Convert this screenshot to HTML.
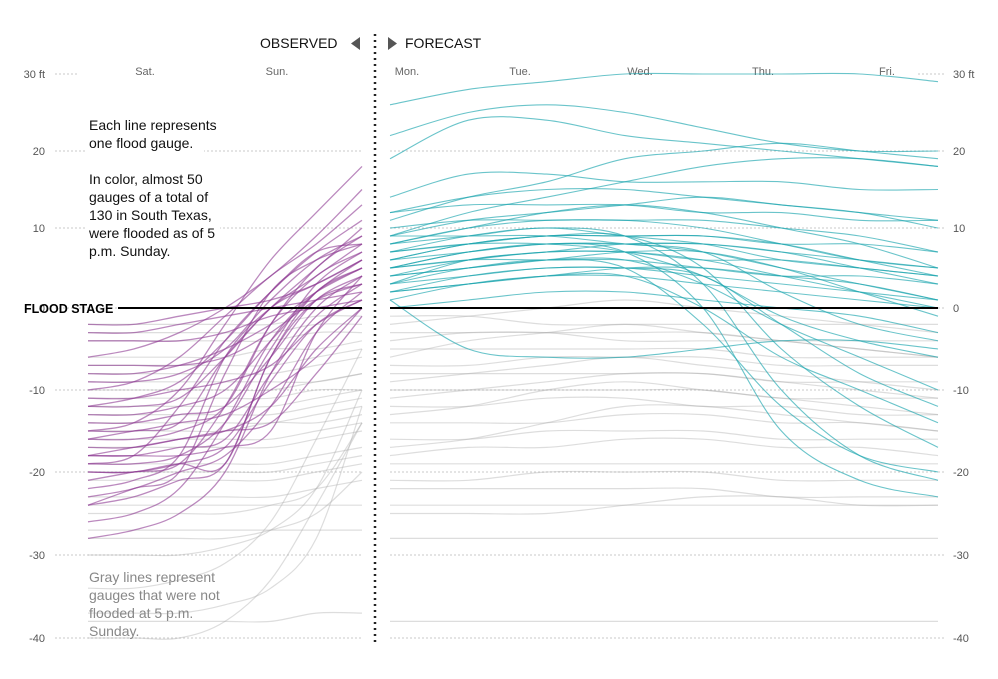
<!DOCTYPE html>
<html><head><meta charset="utf-8"><style>
body{margin:0;background:#fff;font-family:"Liberation Sans",sans-serif}
svg{display:block}
</style></head><body>
<svg id="chart" width="998" height="679" xmlns="http://www.w3.org/2000/svg">
<g id="grid"></g>
<g id="lines"></g>
<g id="overlay"></g>
</svg>
<script>
const yTicks=[30,20,10,0,-10,-20,-30,-40];
const yTickLabels=["30 ft","20","10","0","-10","-20","-30","-40"];
const obsDays=["Sat.","Sun."];
const fcDays=["Mon.","Tue.","Wed.","Thu.","Fri."];
const purpleObserved=[
[-16,-16,-15,-12,-2,5,9],[-19,-19,-18,-14,-5,3,7],[-24,-22,-20,-8,2,6,8],[-8,-8,-7,-5,-2,2,5],
[-14,-14,-13,-12,-6,1,4],[-22,-21,-18,-6,0,3,6],[-12,-12,-11,-6,0,4,8],[-18,-18,-17,-16,-8,-1,3],
[-7,-7,-7,-6,-3,1,3],[-3,-3,-2,-1,0,1,2],[-26,-25,-22,-14,-4,2,5],[-10,-9,-6,-1,4,8,13],
[-15,-14,-10,-2,6,12,18],[-20,-20,-19,-17,-9,-2,1],[-13,-13,-12,-10,-4,2,6],[-23,-22,-20,-18,-12,-3,2],
[-17,-17,-16,-15,-12,-5,0],[-9,-9,-8,-5,1,6,9],[-28,-27,-25,-20,-8,0,4],[-11,-11,-10,-9,-7,-2,1],
[-19,-18,-12,-4,2,7,11],[-15,-15,-14,-13,-10,-6,0],[-6,-5,-3,0,4,9,15],[-21,-20,-19,-12,-2,4,7],
[-4,-4,-4,-3,-1,0,1],[-16,-15,-14,-6,0,5,10],[-18,-17,-16,-15,-14,-8,-1],[-12,-11,-9,-4,2,7,8],
[-2,-2,-1,0,1,3,6],[-24,-23,-21,-19,-6,2,5],[-18,-18,-18,-17,-15,-3,4],[-20,-20,-19,-19,-6,1,3]];
const grayObserved=[
[-2,-2,-2,-2,-2,-1,-1],[-4,-4,-4,-4,-4,-3,-3],[-6,-6,-6,-6,-5,-5,-4],[-8,-8,-8,-8,-8,-7,-6],
[-10,-10,-10,-10,-10,-9,-8],[-12,-12,-12,-12,-12,-11,-10],[-13,-13,-13,-13,-13,-12,-11],[-15,-15,-15,-15,-14,-14,-13],
[-17,-17,-17,-17,-17,-16,-15],[-19,-19,-19,-19,-19,-18,-17],[-21,-21,-21,-21,-21,-20,-19],[-23,-23,-23,-23,-23,-22,-21],
[-24,-24,-24,-24,-24,-24,-24],[-25,-25,-25,-25,-24,-22,-14],[-27,-27,-27,-27,-27,-27,-27],[-28,-28,-28,-28,-27,-25,-20],
[-30,-30,-30,-29,-27,-22,-10],[-34,-34,-33,-31,-26,-16,-5],[-37,-37,-37,-36,-34,-28,-12],[-38,-38,-38,-38,-38,-37,-37],
[-40,-40,-40,-38,-33,-24,-14],[-7,-7,-7,-7,-7,-6,-5],[-11,-11,-11,-11,-11,-10,-10],[-16,-16,-16,-16,-16,-15,-14],
[-20,-20,-20,-20,-20,-19,-18],[-3,-3,-3,-3,-3,-2,-2],[-9,-9,-9,-9,-9,-9,-8],[-14,-14,-14,-14,-14,-13,-12]];
const tealForecast=[
[26,28,29,30,30,30,30,29],[22,25,26,25,23,21,20,20],[19,24,24,22,21,20,19,18],[14,17,17,16,16,16,15,15],
[12,14,15,15,14,13,12,11],[9,11,12,13,14,13,12,10],[8,10,11,11,11,10,9,7],[7,9,10,9,8,6,5,4],
[6,8,9,9,9,8,6,4],[5,7,8,8,7,5,3,1],[4,6,7,7,6,4,2,0],[3,6,7,8,8,7,5,3],
[2,4,5,5,4,3,2,1],[1,3,4,4,3,2,1,0],[4,5,6,6,3,-2,-6,-10],[6,8,9,9,5,-5,-12,-17],
[8,9,10,9,3,-10,-18,-21],[5,7,8,7,0,-15,-21,-23],[3,5,6,5,-2,-12,-18,-20],[2,3,4,4,0,-6,-10,-14],
[7,8,8,7,4,-1,-4,-6],[9,9,9,8,7,2,-2,-4],[10,11,11,11,10,8,6,5],[1,-5,-6,-6,-5,-4,-4,-5],
[0,1,2,2,1,0,-1,-3],[12,13,13,13,12,12,11,11],[5,6,6,6,5,4,4,3],[3,4,5,5,4,-2,-8,-12],
[8,10,12,13,12,10,8,5],[6,7,8,8,8,7,6,5],[4,5,6,7,7,5,2,-1],[2,3,4,5,5,4,3,1],
[11,14,16,19,20,21,20,19],[9,12,14,16,18,19,19,18],[7,8,9,9,9,8,8,7],[5,6,7,7,6,6,5,4]];
const grayForecast=[
[-1,-1,-2,-2,-2,-2,-2,-2],[-3,-3,-3,-4,-4,-4,-4,-4],[-5,-5,-5,-5,-5,-6,-6,-6],[-7,-7,-6,-6,-6,-7,-7,-7],
[-8,-8,-8,-8,-8,-9,-9,-9],[-10,-10,-10,-10,-10,-11,-11,-11],[-12,-12,-11,-11,-12,-12,-13,-13],[-14,-14,-14,-13,-13,-14,-14,-15],
[-16,-16,-15,-15,-15,-16,-16,-16],[-18,-17,-17,-16,-16,-17,-17,-18],[-19,-19,-19,-19,-19,-19,-19,-19],[-21,-21,-20,-20,-20,-21,-21,-21],
[-22,-22,-22,-22,-22,-23,-23,-23],[-24,-24,-24,-24,-24,-24,-24,-24],[-25,-25,-25,-24,-23,-23,-24,-24],[-28,-28,-28,-28,-28,-28,-28,-28],
[-38,-38,-38,-38,-38,-38,-38,-38],[-2,-1,0,1,0,-1,-2,-3],[-6,-4,-3,-2,-3,-4,-5,-6],[-9,-8,-7,-6,-7,-8,-9,-10],
[-13,-12,-10,-9,-10,-11,-12,-13],[-4,-3,-3,-3,-3,-4,-5,-6],[-11,-10,-9,-8,-8,-9,-10,-11],[-17,-16,-14,-12,-12,-13,-14,-15]];

const NS="http://www.w3.org/2000/svg";
const tickPx=[74,151,228,308,390,472,555,638];
function y(v){
  if(v>=yTicks[0])return tickPx[0]-(v-yTicks[0])*7.7;
  for(let i=0;i<yTicks.length-1;i++){
    if(v<=yTicks[i]&&v>=yTicks[i+1]){const t=(yTicks[i]-v)/(yTicks[i]-yTicks[i+1]);return tickPx[i]+t*(tickPx[i+1]-tickPx[i]);}
  }
  return tickPx[7]+(yTicks[7]-v)*8.3;
}
const obsX0=88,obsX1=362,fcX0=390,fcX1=938;
function xObs(i,n){return obsX0+i*(obsX1-obsX0)/(n-1);}
function xFc(i,n){return fcX0+i*(fcX1-fcX0)/(n-1);}
function el(tag,attrs,parent){const e=document.createElementNS(NS,tag);for(const k in attrs)e.setAttribute(k,attrs[k]);parent.appendChild(e);return e;}
function pathD(pts){
  let d="M"+pts[0][0]+","+pts[0][1];
  for(let i=0;i<pts.length-1;i++){
    const p0=pts[i-1]||pts[i],p1=pts[i],p2=pts[i+1],p3=pts[i+2]||p2;
    const c1=[p1[0]+(p2[0]-p0[0])/6,p1[1]+(p2[1]-p0[1])/6],c2=[p2[0]-(p3[0]-p1[0])/6,p2[1]-(p3[1]-p1[1])/6];
    d+=" C"+c1[0].toFixed(1)+","+c1[1].toFixed(1)+" "+c2[0].toFixed(1)+","+c2[1].toFixed(1)+" "+p2[0].toFixed(1)+","+p2[1].toFixed(1);
  }
  return d;
}
const grid=document.getElementById("grid"),lines=document.getElementById("lines"),ov=document.getElementById("overlay");
yTicks.forEach((t,i)=>{
  const yy=y(t);
  const top=(i===0);
  const g1=el("line",{x1:55,x2:top?78:362,y1:yy,y2:yy,stroke:"#c8c8c8","stroke-dasharray":"2,2","stroke-width":1},grid);
  
  const g2=el("line",{x1:top?918:390,x2:945,y1:yy,y2:yy,stroke:"#c8c8c8","stroke-dasharray":"2,2","stroke-width":1},grid);
  
  const l=el("text",{x:45,y:yy+4,"text-anchor":"end","font-size":11,fill:"#555"},grid);l.textContent=yTickLabels[i];
  
  const r=el("text",{x:953,y:yy+4,"font-size":11,fill:"#555"},grid);r.textContent=yTickLabels[i];
  
});
[145,277].forEach((x,i)=>{const t=el("text",{x:x,y:75,"text-anchor":"middle","font-size":11,fill:"#666"},grid);t.textContent=obsDays[i];
  });
[407,520,640,763,887].forEach((x,i)=>{const t=el("text",{x:x,y:75,"text-anchor":"middle","font-size":11,fill:"#666"},grid);t.textContent=fcDays[i];
  });
function drawSet(data,xf,color,op,w,name){
  data.forEach(s=>{const p=el("path",{d:pathD(s.map((v,i)=>[xf(i,s.length),y(v)])),fill:"none",stroke:color,"stroke-opacity":op,"stroke-width":w},lines);
    });
}
drawSet(grayObserved,xObs,"#aaa",0.4,1.2,"gray-observed-line");
drawSet(grayForecast,xFc,"#aaa",0.4,1.2,"gray-forecast-line");
drawSet(purpleObserved,xObs,"#8e3a92",0.6,1.3,"purple-observed-line");
drawSet(tealForecast,xFc,"#1aa5ad",0.65,1.1,"teal-forecast-line");
</script>
<script>
(function(){
const NS="http://www.w3.org/2000/svg",ov=document.getElementById("overlay");
function add(tag,a,txt,name){const e=document.createElementNS(NS,tag);for(const k in a)e.setAttribute(k,a[k]);if(txt)e.textContent=txt;ov.appendChild(e);

return e;}
add("line",{x1:118,x2:362,y1:308,y2:308,stroke:"#000","stroke-width":2},null,"flood-stage-line-left");
add("line",{x1:390,x2:938,y1:308,y2:308,stroke:"#000","stroke-width":2},null,"flood-stage-line-right");
add("text",{x:24,y:313,"font-size":12.5,"font-weight":"bold",fill:"#000"},"FLOOD STAGE","flood-stage-label");
add("line",{x1:375,x2:375,y1:34,y2:642,stroke:"#222","stroke-width":2.5,"stroke-dasharray":"2,4"},null,"now-divider");
add("text",{x:260,y:48,"font-size":14,fill:"#111"},"OBSERVED","observed-header");
add("polygon",{points:"360,37 360,50 351,43.5",fill:"#555"},null,"observed-arrow");
add("polygon",{points:"388,37 388,50 397,43.5",fill:"#555"},null,"forecast-arrow");
add("text",{x:405,y:48,"font-size":14,fill:"#111"},"FORECAST","forecast-header");
const t1=["Each line represents","one flood gauge.","","In color, almost 50","gauges of a total of","130 in South Texas,","were flooded as of 5","p.m. Sunday."];
add("rect",{x:86,y:113,width:118,height:40,fill:"#fff"},null,"note-background");
add("rect",{x:86,y:166,width:134,height:96,fill:"#fff"},null,"note-background");
t1.forEach((s,i)=>{if(s)add("text",{x:89,y:130+i*18,"font-size":14,fill:"#111"},s,"annotation-colored");});
const t2=["Gray lines represent","gauges that were not","flooded at 5 p.m.","Sunday."];
t2.forEach((s,i)=>add("text",{x:89,y:582+i*18,"font-size":14,fill:"#888"},s,"annotation-gray"));
})();
</script>
</body></html>
